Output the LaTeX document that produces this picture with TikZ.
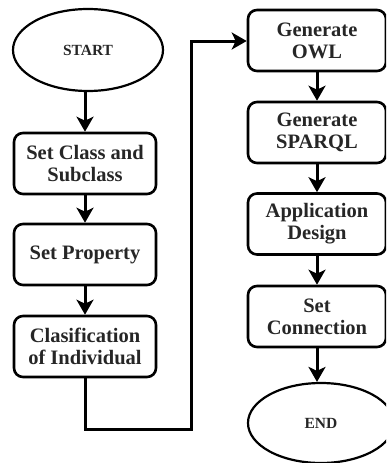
\documentclass[tikz,border=0pt]{standalone}
\usepackage{fontspec}
\setmainfont{Liberation Serif}
\usetikzlibrary{shapes.geometric,arrows.meta}
\definecolor{txt}{HTML}{262626}
\tikzset{
  stepbox/.style={draw=black, line width=2.6pt, rounded corners=9pt, minimum width=142pt, minimum height=61pt, align=center, inner sep=0pt, text=txt, font=\bfseries\fontsize{20.5}{22}\selectfont},
  rightbox/.style={stepbox, minimum width=138pt},
  term/.style={draw=black, line width=2.2pt, ellipse, inner sep=0pt, text=txt, font=\bfseries\fontsize{15.5}{17}\selectfont},
  arr/.style={line width=3pt, -{Stealth[length=15pt, width=17pt, inset=4pt]}},
  conn/.style={line width=3pt}
}
\begin{document}
\begin{tikzpicture}[x=1pt, y=-1pt]
\useasboundingbox (0,0) rectangle (386,463);
\clip (0,0) rectangle (386,463);
% left column
\node[term, minimum width=150pt, minimum height=82pt] (start) at (88,50) {START};
\node[stepbox] (setclass) at (85,163.5) {Set Class and\\Subclass};
\node[stepbox] (setprop) at (85,254.5) {Set Property};
\node[stepbox] (clasif) at (85,346.5) {Clasification\\of Individual};
% right column
\node[rightbox] (genowl) at (317,40.5) {Generate\\OWL};
\node[rightbox] (gensparql) at (317,132.5) {Generate\\SPARQL};
\node[rightbox] (appdesign) at (317,224) {Application\\Design};
\node[rightbox] (setconn) at (317,316.5) {Set\\Connection};
\node[term, minimum width=146pt, minimum height=80pt] (endn) at (321,423) {END};
% connectors
\draw[arr] (start.south -| setclass.north) -- (setclass.north);
\draw[arr] (setclass) -- (setprop);
\draw[arr] (setprop) -- (clasif);
\coordinate (c1) at (191,429);
\coordinate (c2) at (191,41);
\draw[arr, rounded corners=0pt] (clasif.south) |- (c1) -- (c2) -- (genowl.west |- c2);
\draw[arr] (genowl) -- (gensparql);
\draw[arr] (gensparql) -- (appdesign);
\draw[arr] (appdesign) -- (setconn);
\draw[arr] (setconn.south) -- (setconn.south |- endn.north);
\end{tikzpicture}
\end{document}
